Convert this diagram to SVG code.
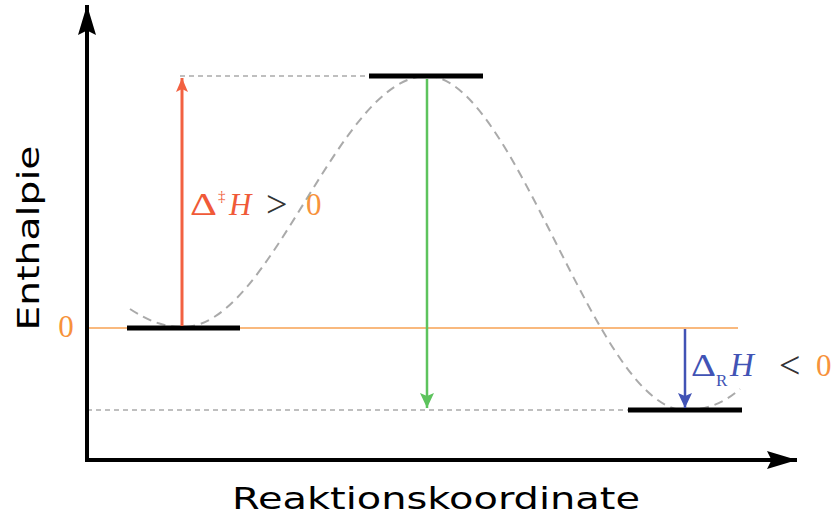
<svg xmlns="http://www.w3.org/2000/svg" width="838" height="531" viewBox="0 0 838 531">
<style>
.lvl{stroke:#000;stroke-width:5;fill:none}
.dash{stroke:#aaa;stroke-width:1.5;stroke-dasharray:5,4;fill:none}
.curve{stroke:#aaa;stroke-width:2;stroke-dasharray:9,6;fill:none}
.ax{stroke:#000;stroke-width:4;fill:none}
.m{font-family:"Liberation Serif","DejaVu Serif",serif;font-size:31px}
.rel{font-size:38px;fill:#333}
.lab{font-family:"DejaVu Sans","Liberation Sans",sans-serif;font-size:31px;fill:#000}
</style>
<defs>
<marker id="ha" markerUnits="userSpaceOnUse" markerWidth="30" markerHeight="30" refX="40" refY="12" viewBox="0 0 40 24" orient="auto">
<path d="M40,12 L0,0 L6,12 L0,24 Z" fill="#000"/>
</marker>
<marker id="hr" markerUnits="userSpaceOnUse" markerWidth="14" markerHeight="12" refX="14" refY="6" viewBox="0 0 14 12" orient="auto">
<path d="M14,6 L0,0 L3,6 L0,12 Z" fill="#f26141"/>
</marker>
<marker id="hg" markerUnits="userSpaceOnUse" markerWidth="15" markerHeight="14" refX="15" refY="7" viewBox="0 0 15 14" orient="auto">
<path d="M15,7 L0,0 L3,7 L0,14 Z" fill="#5dc35d"/>
</marker>
<marker id="hb" markerUnits="userSpaceOnUse" markerWidth="15" markerHeight="14" refX="15" refY="7" viewBox="0 0 15 14" orient="auto">
<path d="M15,7 L0,0 L3,7 L0,14 Z" fill="#4153b5"/>
</marker>
</defs>
<g id="guides">
<line x1="180" y1="76" x2="370" y2="76" class="dash"/>
<line x1="87" y1="410" x2="629" y2="410" class="dash"/>
<line x1="86" y1="328" x2="738" y2="328" stroke="#f7a253" stroke-width="1.5"/>
<path class="curve" d="M130,309 C150,322 165,327 183,327 C272,327 338,76 427,76 C516,76 596,410 685,410 C710,410 726,401 740,389"/>
</g>
<g id="axes">
<line x1="87" y1="460" x2="87" y2="5" class="ax" marker-end="url(#ha)"/>
<line x1="85" y1="460" x2="797" y2="460" class="ax" marker-end="url(#ha)"/>
</g>
<g id="level-reactant"><line x1="127" y1="328" x2="240" y2="328" class="lvl"/></g>
<g id="level-transition"><line x1="369" y1="76" x2="483" y2="76" class="lvl"/></g>
<g id="level-product"><line x1="628" y1="410" x2="742" y2="410" class="lvl"/></g>
<g id="connectors">
<line x1="182" y1="326" x2="182" y2="78" stroke="#f26141" stroke-width="3" marker-end="url(#hr)"/>
<line x1="427" y1="79" x2="427" y2="408" stroke="#5dc35d" stroke-width="2.5" marker-end="url(#hg)"/>
<line x1="685" y1="329" x2="685" y2="408" stroke="#4153b5" stroke-width="2.5" marker-end="url(#hb)"/>
</g>
<g id="labels">
<text x="28" y="238" class="lab" text-anchor="middle" transform="rotate(-90 28 238)" dy="11" textLength="185" lengthAdjust="spacingAndGlyphs">Enthalpie</text>
<text x="436" y="509" class="lab" text-anchor="middle" textLength="408" lengthAdjust="spacingAndGlyphs">Reaktionskoordinate</text>
<text x="66" y="337" class="m" fill="#f7923b" text-anchor="middle" font-size="27">0</text>
<text class="m" y="215" fill="#f05a38"><tspan x="190" textLength="27" lengthAdjust="spacingAndGlyphs">Δ</tspan><tspan x="218" y="201" font-size="15">‡</tspan></text>
<text class="m" y="215"><tspan x="229" fill="#f05a38" font-style="italic">H</tspan><tspan x="266" y="217" class="rel">&gt;</tspan><tspan x="306" y="215" fill="#f7923b">0</tspan></text>
<text class="m" y="376" fill="#4153b5"><tspan x="691" textLength="25" lengthAdjust="spacingAndGlyphs">Δ</tspan><tspan x="716" y="386" font-size="17">R</tspan></text>
<text class="m" y="376"><tspan x="730" fill="#4153b5" font-style="italic" font-size="33">H</tspan><tspan x="779" y="378" class="rel">&lt;</tspan><tspan x="816" y="376" fill="#f7923b">0</tspan></text>
</g>
</svg>
